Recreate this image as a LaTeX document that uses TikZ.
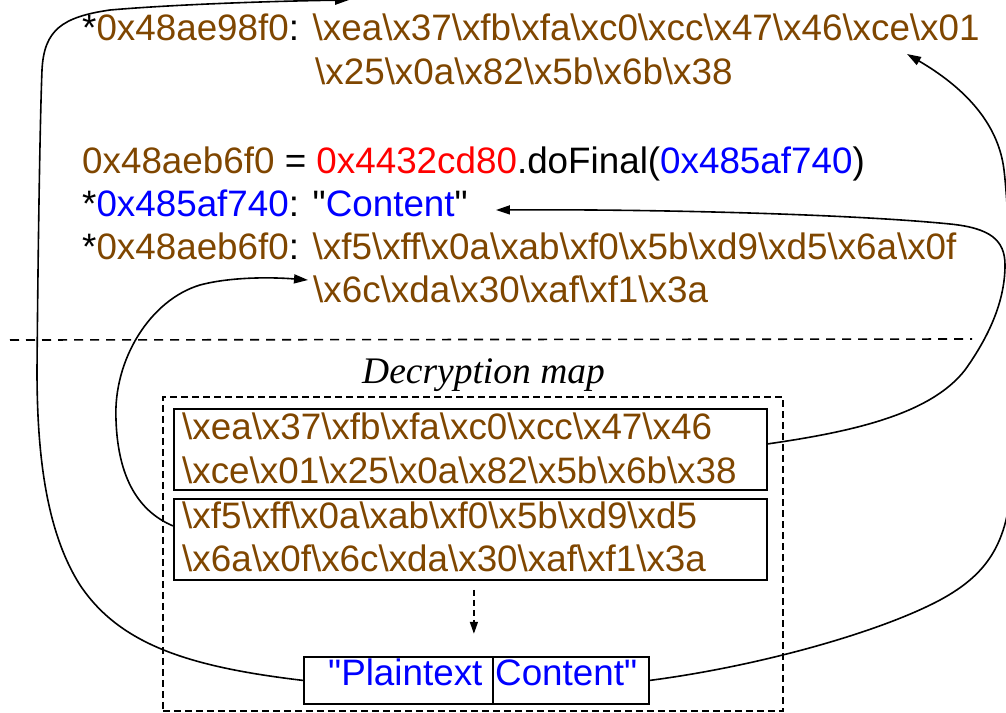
\documentclass[tikz,border=0pt]{standalone}
\usepackage{fontspec}
\setmainfont{Liberation Sans}[Ligatures=TeXOff]
\newfontfamily\mapfont{Liberation Serif}
\usetikzlibrary{arrows.meta}
\definecolor{hexbrown}{RGB}{127,70,0}
\definecolor{ptrblue}{RGB}{0,0,255}
\definecolor{objred}{RGB}{255,0,0}
\newcommand\bsl{\textbackslash}
\newcommand\hx[1]{\textcolor{hexbrown}{#1}}
\newcommand\pb[1]{\textcolor{ptrblue}{#1}}
\begin{document}
\begin{tikzpicture}[x=1pt,y=-1pt,
  txt/.style={anchor=base west, inner sep=0pt, font=\fontsize{36.8}{44}\selectfont},
  cell/.style={draw, line width=1.8pt, inner sep=0pt, anchor=north west},
  frame/.style={draw, line width=1.6pt, dash pattern=on 7pt off 4pt, inner sep=0pt, anchor=north west},
  link/.style={line width=1.6pt},
  linkarrow/.style={link, -{Triangle[length=14pt,width=9pt]}},
  dashlink/.style={line width=1.6pt, dash pattern=on 6pt off 4pt, -{Triangle[length=12pt,width=8pt]}}]
\useasboundingbox (0,0) rectangle (1006,712);

% memory contents after the call
\node[txt] (m1a) at (82,40) {*\hx{0x48ae98f0}: \hx{\bsl xea\bsl x37\bsl xfb\bsl xfa\bsl xc0\bsl xcc\bsl x47\bsl x46\bsl xce\bsl x01}};
\node[txt] (m1b) at (315,84) {\hx{\bsl x25\bsl x0a\bsl x82\bsl x5b\bsl x6b\bsl x38}};
\node[txt] (call) at (82,173) {\hx{0x48aeb6f0} = \textcolor{objred}{0x4432cd80}.doFinal(\pb{0x485af740})};
\node[txt] (m2) at (82,216) {*\pb{0x485af740}: "\pb{Content}"};
\node[txt] (m3a) at (82,259) {*\hx{0x48aeb6f0}: \hx{\bsl xf5\bsl xff\bsl x0a\bsl xab\bsl xf0\bsl x5b\bsl xd9\bsl xd5\bsl x6a\bsl x0f}};
\node[txt] (m3b) at (313,302) {\hx{\bsl x6c\bsl xda\bsl x30\bsl xaf\bsl xf1\bsl x3a}};

% separator
\draw[line width=1.6pt, dash pattern=on 9pt off 7pt] (10,340) -- (972,339);

% decryption map
\node[txt, font=\mapfont\itshape\fontsize{37.5}{44}\selectfont] (maplabel) at (362,383) {Decryption map};
\node[frame, minimum width=620pt, minimum height=314pt] (mapframe) at (162,396) {};
\node[cell, minimum width=593pt, minimum height=81pt] (box1) at (173,408) {};
\node[cell, minimum width=593pt, minimum height=81pt] (box2) at (173,498) {};
\node[txt] (b1a) at (182,439) {\hx{\bsl xea\bsl x37\bsl xfb\bsl xfa\bsl xc0\bsl xcc\bsl x47\bsl x46}};
\node[txt] (b1b) at (182,483) {\hx{\bsl xce\bsl x01\bsl x25\bsl x0a\bsl x82\bsl x5b\bsl x6b\bsl x38}};
\node[txt] (b2a) at (182,528) {\hx{\bsl xf5\bsl xff\bsl x0a\bsl xab\bsl xf0\bsl x5b\bsl xd9\bsl xd5}};
\node[txt] (b2b) at (182,571) {\hx{\bsl x6a\bsl x0f\bsl x6c\bsl xda\bsl x30\bsl xaf\bsl xf1\bsl x3a}};

\node[cell, minimum width=189pt, minimum height=47pt] (plcell) at (303,656) {};
\node[cell, minimum width=156pt, minimum height=47pt] (ctcell) at (492,656) {};
\node[txt] (pltext) at (328,685) {\pb{"Plaintext}};
\node[txt] (cttext) at (495,685) {\pb{Content"}};

\draw[dashlink] ([xshift=3.5pt,yshift=-9pt]box2.south) -- ([xshift=3.5pt,yshift=-53pt]box2.south);

% arrow targets
\coordinate (topL) at (349,0);
\coordinate (tipR) at (907,54);

% connectors
\draw[linkarrow] (plcell.west) .. controls (190,667) and (120,645) .. (80,585)
  .. controls (45,530) and (37,450) .. (37,370)
  .. controls (38,250) and (40,120) .. (42,70)
  .. controls (44,30) and (62,17) .. (110,10)
  .. controls (180,4) and (280,1) .. (topL);

\draw[linkarrow] (ctcell.east) .. controls (760,666) and (880,632) .. (940,600)
  .. controls (990,573) and (1010,540) .. (1012,470)
  .. controls (1014,360) and (1010,220) .. (1004,170)
  .. controls (998,120) and (960,85) .. (tipR);

\draw[linkarrow] ([yshift=5.5pt]box1.east) .. controls (850,432) and (930,415) .. (965,370)
  .. controls (990,335) and (1005,300) .. (1005,265)
  .. controls (1005,240) and (990,228) .. (950,224)
  .. controls (850,214) and (650,209) .. ([shift={(28pt,6pt)}]m2.base east);

\draw[linkarrow] ([yshift=13.5pt]box2.west) .. controls (140,512) and (118,480) .. (116,420)
  .. controls (113,360) and (150,300) .. (200,285)
  .. controls (230,277) and (270,277) .. ([shift={(-5pt,22pt)}]m3b.base west);
\end{tikzpicture}
\end{document}
